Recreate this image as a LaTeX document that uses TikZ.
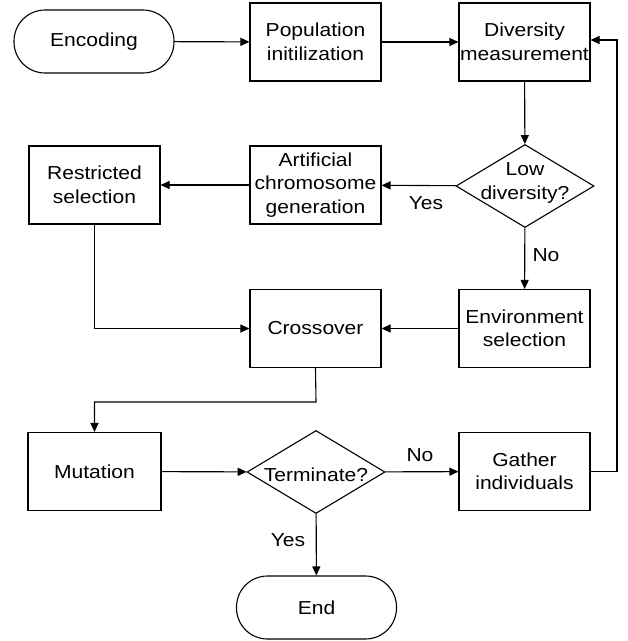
\documentclass[tikz,border=0pt]{standalone}
\usepackage{fontspec}
\setmainfont{Liberation Sans}[FakeStretch=1.12]
\usetikzlibrary{shapes.geometric,arrows.meta}
\begin{document}
\begin{tikzpicture}[x=1pt,y=-1pt,
  every node/.style={font=\fontsize{18.8}{23.5}\selectfont, align=center, text=black},
  box/.style={draw, line width=1.1pt, minimum width=131pt, minimum height=78pt, inner sep=0pt},
  pill/.style={draw, line width=1.1pt, rounded corners=31pt, minimum width=160pt, minimum height=63pt, inner sep=0pt},
  dia/.style={draw, diamond, line width=1.1pt, minimum width=138pt, minimum height=83pt, inner sep=0pt},
  conn/.style={line width=1.1pt, -{Triangle[length=9pt,width=8pt]}},
  lbl/.style={inner sep=0pt}]
\useasboundingbox (0,0) rectangle (628,641);
\node[pill] (enc) at (94,41.5) {Encoding};
\node[box] (pop) at (315.5,42) {Population\\initilization};
\node[box] (div) at (524.5,42) {Diversity\\measurement};
\node[dia] (low) at (525,186) {};
\node (lowtxt) at (525,183) {Low\\diversity?};
\node[box] (art) at (315.5,185) {Artificial\\chromosome\\generation};
\node[box] (res) at (94.5,185) {Restricted\\selection};
\node[box] (env) at (524.5,328.5) {Environment\\selection};
\node[box] (cro) at (315.5,328.5) {Crossover};
\node[box, minimum width=133pt] (mut) at (94.5,471.5) {Mutation};
\node[dia] (term) at (316,472) {};
\node (termtxt) at (316,475) {Terminate?};
\node[box] (gat) at (524.5,471.5) {Gather\\individuals};
\node[pill] (endn) at (316.5,607.5) {End};
\coordinate (fb) at (617,40);
\coordinate (mid) at (316,402);
\draw[conn] (enc) -- (pop);
\draw[conn] (pop) -- (div);
\draw[conn] (div) -- (low);
\draw[conn] (low) -- (art);
\draw[conn] (art) -- (res);
\draw[conn] (low) -- (env);
\draw[conn] (env) -- (cro);
\draw[conn] (res) |- (cro);
\draw[conn] (cro.south) -- (mid) -| (mut.north);
\draw[conn] (mut) -- (term);
\draw[conn] (term) -- (gat);
\draw[conn] (term) -- (endn);
\draw[conn] (gat.east) -| (fb) -- (fb -| div.east);
\node[lbl] (yes1) at (426,203) {Yes};
\node[lbl] (no1) at (546,255) {No};
\node[lbl] (no2) at (420,455) {No};
\node[lbl] (yes2) at (288,540) {Yes};
\end{tikzpicture}
\end{document}
